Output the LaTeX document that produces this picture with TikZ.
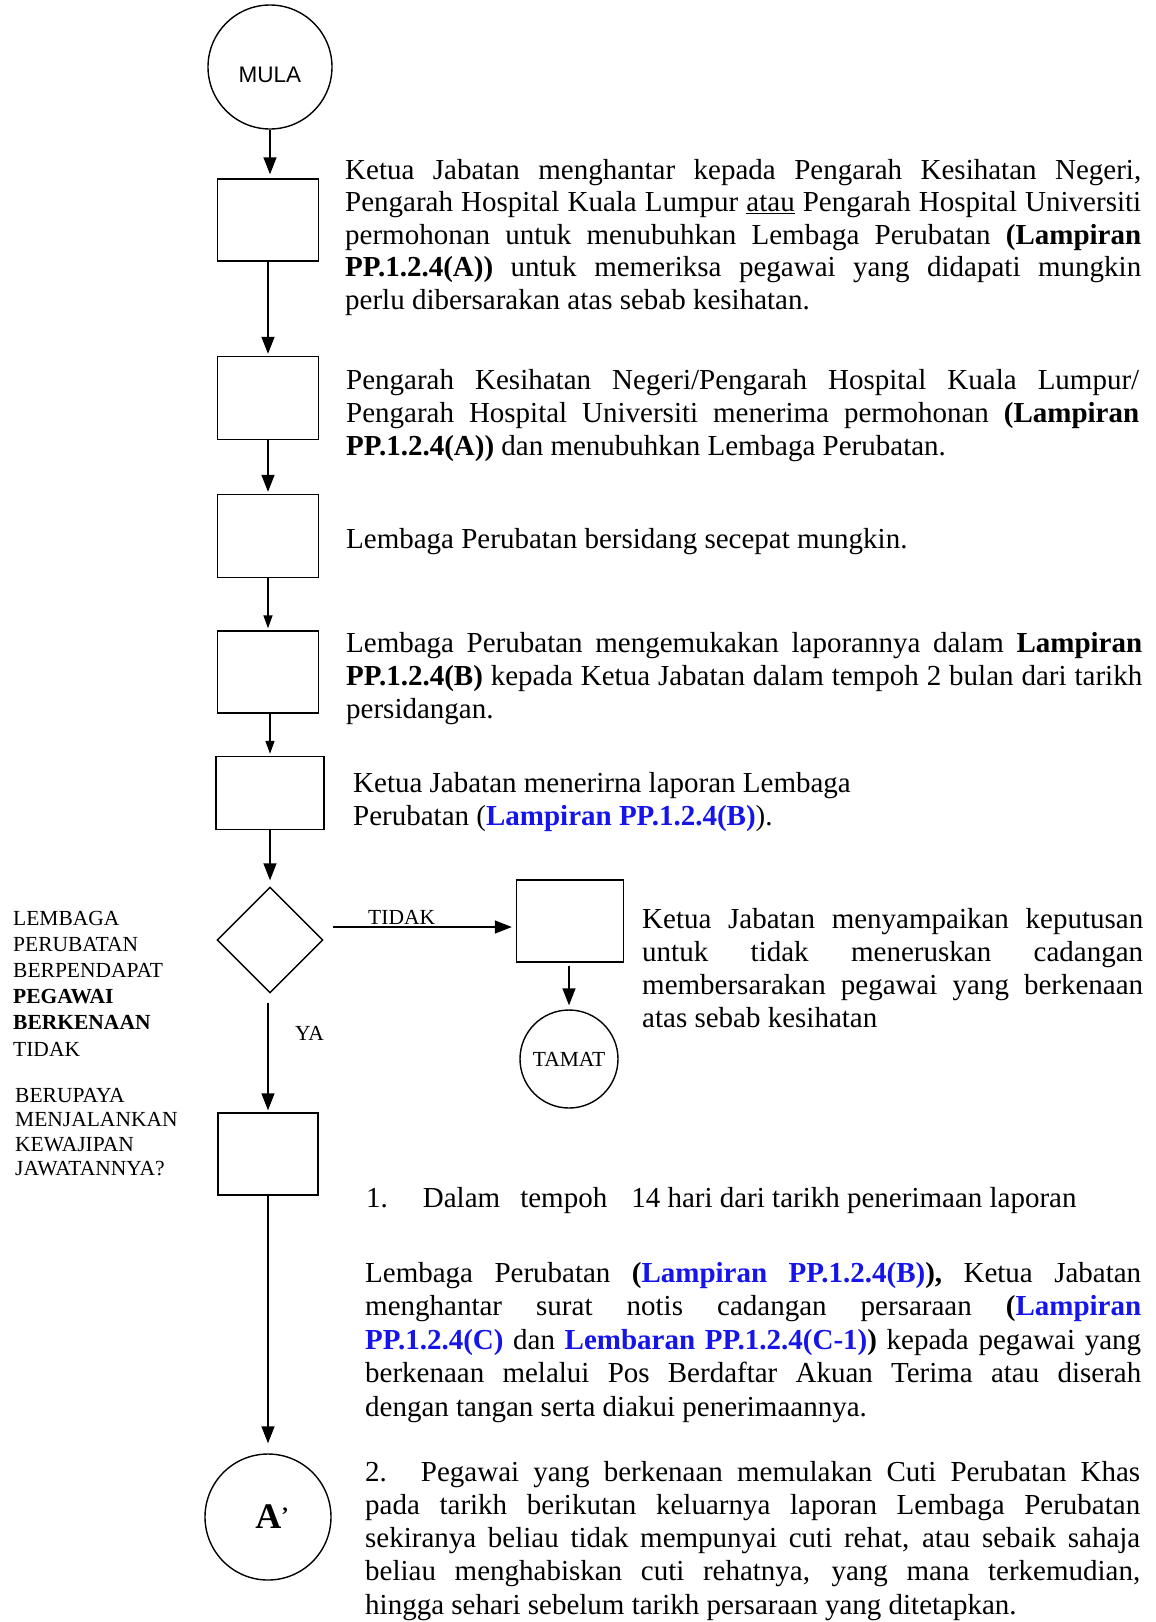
\documentclass[tikz,border=0pt]{standalone}
\usepackage{fontspec}
\setmainfont{Liberation Serif}
\newfontfamily\arialf{Liberation Sans}
\usetikzlibrary{arrows.meta,shapes.geometric,calc}
\definecolor{refblue}{RGB}{20,20,235}
\newcommand\jline[1]{\makebox[\linewidth][s]{#1}\\}
\newcommand\bl[1]{\textbf{\color{refblue}#1}}
\begin{document}
\begin{tikzpicture}[x=1pt,y=-1pt,
  flowbox/.style={draw,line width=1.4pt,rectangle,inner sep=0pt},
  circ/.style={draw,line width=1.4pt,circle,inner sep=0pt},
  arr/.style={line width=1.4pt,-{Triangle[length=17pt,width=13pt]},shorten >=2pt},
  sarr/.style={line width=1.4pt,-{Triangle[length=13pt,width=9pt]},shorten >=2pt},
  txt/.style={anchor=base west,inner sep=0pt,font=\fontsize{29}{33}\selectfont},
  side/.style={anchor=base west,inner sep=0pt,font=\fontsize{21.5}{25}\selectfont}]
\fill[white] (0,0) rectangle (1156,1622);
\useasboundingbox (0,0) rectangle (1156,1622);

% flow shapes
\node[circ,minimum size=124pt] (mula) at (270,67) {};
\node[inner sep=0pt,font=\arialf\fontsize{22.5}{26}\selectfont] (mulat) at (270,75) {MULA};
\node[flowbox,minimum width=101pt,minimum height=82pt] (b1) at (268,220) {};
\node[flowbox,minimum width=101pt,minimum height=83pt] (b2) at (268,398) {};
\node[flowbox,minimum width=101pt,minimum height=83pt] (b3) at (268,536) {};
\node[flowbox,minimum width=101pt,minimum height=82pt] (b4) at (268,672) {};
\node[flowbox,minimum width=108pt,minimum height=73pt] (b5) at (270,793) {};
\node[diamond,draw,line width=1.4pt,inner sep=0pt,shape aspect=1,minimum width=106pt,minimum height=106pt] (dia) at (270,940) {};
\node[flowbox,minimum width=100pt,minimum height=82pt] (b6) at (268,1154) {};
\node[flowbox,minimum width=107pt,minimum height=82pt] (bt) at (570,921) {};
\node[circ,minimum size=98pt,font=\fontsize{21.5}{24}\selectfont] (tamat) at (569,1059) {TAMAT};
\node[circ,minimum size=126pt,font=\fontsize{36}{40}\selectfont\bfseries] (aa) at (268,1517) {\hspace{8pt}A\raisebox{6pt}{\fontsize{22}{22}\selectfont\textquoteright}};

% connectors
\draw[arr,shorten >=4pt] (mula.south) -- (mula.south |- b1.north);
\draw[arr] (b1.south) -- (b2.north);
\draw[arr] (b2.south) -- (b3.north);
\draw[sarr] (b3.south) -- (b4.north);
\draw[sarr] (b4.south -| b5.north) -- (b5.north);
\draw[arr,shorten >=6pt] (b5.south -| dia.north) -- (dia.north);
\draw[arr] ([yshift=-9pt]dia.south -| b6.north) -- (b6.north);
\draw[arr,shorten >=4pt] ([xshift=9pt,yshift=13pt]dia.east) -- ([yshift=-6pt]bt.west);
\draw[arr,shorten >=4pt] ([yshift=-3pt]bt.south -| tamat.north) -- (tamat.north);
\draw[arr,shorten >=10pt] (b6.south) -- (b6.south |- aa.north);

% labels on connectors
\node[side] (ltidak) at (368,924) {TIDAK};
\node[side] (lya) at (295,1040) {YA};

% left question text
\node[side] (q1) at (13,925) {\parbox[t]{200pt}{\raggedright\baselineskip=26.2pt LEMBAGA\\ PERUBATAN\\ BERPENDAPAT\\ \textbf{PEGAWAI}\\ \textbf{BERKENAAN}\\ TIDAK}};
\node[side] (q2) at (15,1102) {\parbox[t]{200pt}{\raggedright\baselineskip=24.6pt BERUPAYA\\ MENJALANKAN\\ KEWAJIPAN\\ JAWATANNYA?}};

% step texts
\node[txt] (t1) at (345,179) {\parbox[t]{796pt}{\baselineskip=32.6pt
\jline{Ketua Jabatan menghantar kepada Pengarah Kesihatan Negeri,}
\jline{Pengarah Hospital Kuala Lumpur \underline{atau} Pengarah Hospital Universiti}
\jline{permohonan untuk menubuhkan Lembaga Perubatan \textbf{(Lampiran}}
\jline{\textbf{PP.1.2.4(A))} untuk memeriksa pegawai yang didapati mungkin}
perlu dibersarakan atas sebab kesihatan.}};

\node[txt] (t2) at (346,389) {\parbox[t]{793pt}{\baselineskip=33pt
\jline{Pengarah Kesihatan Negeri/Pengarah Hospital Kuala Lumpur/}
\jline{Pengarah Hospital Universiti menerima permohonan \textbf{(Lampiran}}
\textbf{PP.1.2.4(A))} dan menubuhkan Lembaga Perubatan.}};

\node[txt] (t3) at (346,548) {Lembaga Perubatan bersidang secepat mungkin.};

\node[txt] (t4) at (346,652) {\parbox[t]{796pt}{\baselineskip=33pt
\jline{Lembaga Perubatan mengemukakan laporannya dalam \textbf{Lampiran}}
\jline{\textbf{PP.1.2.4(B)} kepada Ketua Jabatan dalam tempoh 2 bulan dari tarikh}
persidangan.}};

\node[txt] (t5) at (353,792) {\parbox[t]{520pt}{\baselineskip=33pt
Ketua Jabatan menerirna laporan Lembaga\\
Perubatan (\bl{Lampiran PP.1.2.4(B)}).}};

\node[txt] (t6) at (642,928) {\parbox[t]{501pt}{\baselineskip=33pt
\jline{Ketua Jabatan menyampaikan keputusan}
\jline{untuk tidak meneruskan cadangan}
\jline{membersarakan pegawai yang berkenaan}
atas sebab kesihatan}};

\node[txt] (t7a) at (366,1207) {1.\hspace{35pt}Dalam\hspace{20pt}tempoh\hspace{24pt}14 hari dari tarikh penerimaan laporan};

\node[txt] (t7) at (365,1282) {\parbox[t]{776pt}{\baselineskip=33.6pt
\jline{Lembaga Perubatan \textbf{(}\bl{Lampiran PP.1.2.4(B)}\textbf{),} Ketua Jabatan}
\jline{menghantar surat notis cadangan persaraan \textbf{(}\bl{Lampiran}}
\jline{\bl{PP.1.2.4(C)} dan \bl{Lembaran PP.1.2.4(C-1)}\textbf{)} kepada pegawai yang}
\jline{berkenaan melalui Pos Berdaftar Akuan Terima atau diserah}
dengan tangan serta diakui penerimaannya.}};

\node[txt] (t8) at (365,1481) {\parbox[t]{775pt}{\baselineskip=33.3pt
\jline{2.\hspace{34pt}Pegawai yang berkenaan memulakan Cuti Perubatan Khas}
\jline{pada tarikh berikutan keluarnya laporan Lembaga Perubatan}
\jline{sekiranya beliau tidak mempunyai cuti rehat, atau sebaik sahaja}
\jline{beliau menghabiskan cuti rehatnya, yang mana terkemudian,}
hingga sehari sebelum tarikh persaraan yang ditetapkan.}};
\end{tikzpicture}
\end{document}
